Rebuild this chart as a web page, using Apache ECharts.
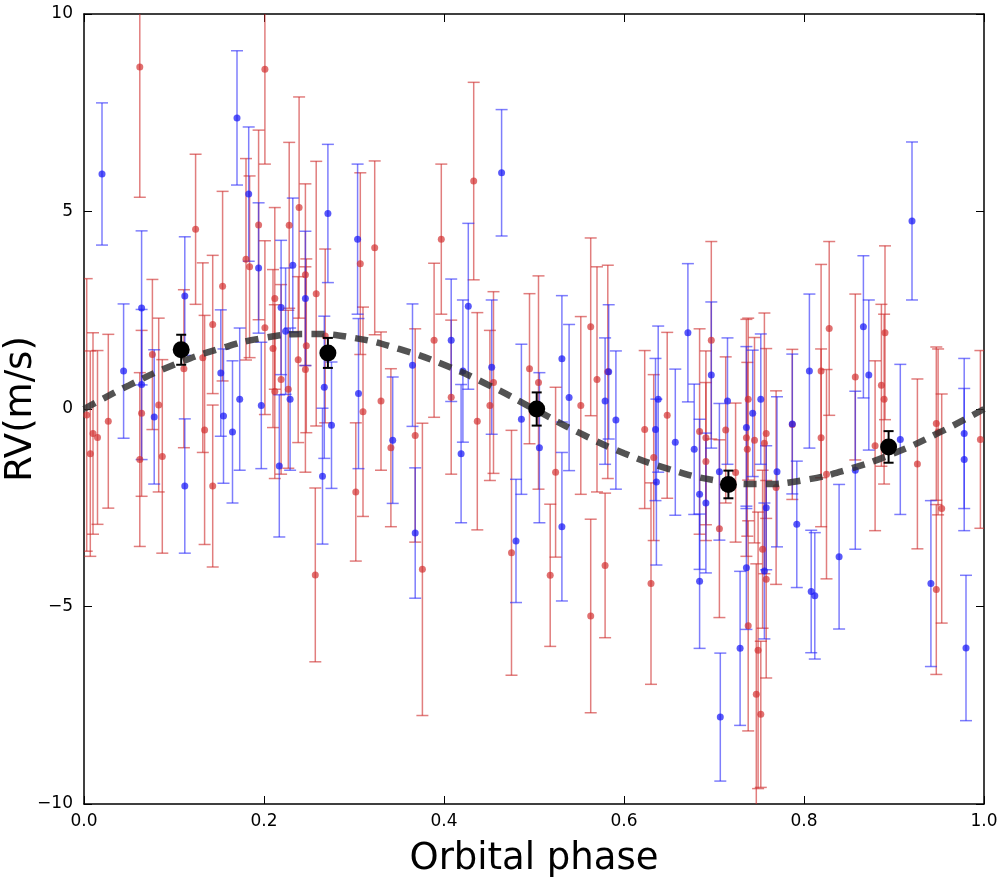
<!DOCTYPE html>
<html>
<head>
<meta charset="utf-8">
<script src="https://cdn.jsdelivr.net/npm/echarts@6/dist/echarts.min.js"></script>
<style>
  html, body { margin: 0; padding: 0; background: #fff; }
  #chart { width: 1000px; height: 883px; }
</style>
</head>
<body>
<div id="chart"></div>
<script>
// red instrument: phase, RV (m/s), 1-sigma error
var redPhase = [0.003, 0.007, 0.010, 0.015, 0.027, 0.062, 0.062, 0.064, 0.076, 0.083, 0.087, 0.111, 0.124, 0.132, 0.134, 0.143, 0.143, 0.154, 0.180, 0.184,
  0.194, 0.201, 0.201, 0.210, 0.212, 0.212, 0.219, 0.227, 0.228, 0.238, 0.239, 0.246, 0.246, 0.247, 0.257, 0.258, 0.268, 0.302, 0.307, 0.310,
  0.323, 0.330, 0.341, 0.368, 0.376, 0.389, 0.397, 0.408, 0.433, 0.437, 0.451, 0.455, 0.475, 0.495, 0.505, 0.518, 0.524, 0.552, 0.563, 0.563,
  0.570, 0.579, 0.582, 0.623, 0.630, 0.633, 0.648, 0.684, 0.691, 0.691, 0.697, 0.706, 0.713, 0.724, 0.736, 0.737, 0.738, 0.738, 0.745, 0.747,
  0.749, 0.752, 0.754, 0.756, 0.758, 0.758, 0.769, 0.787, 0.819, 0.819, 0.825, 0.828, 0.857, 0.879, 0.886, 0.889, 0.890, 0.926, 0.947, 0.947,
  0.949, 0.953, 0.996];
var redRV = [-0.15, -1.13, -0.62, -0.72, -0.31, 8.66, -1.28, -0.11, 1.38, 0.10, -1.20, 1.02, 4.55, 1.30, -0.53, 2.14, -1.95, 3.11, 3.79, 3.60,
  4.66, 8.60, 2.06, 1.53, 2.80, 0.44, 0.75, 0.50, 4.65, 1.25, 5.10, 3.40, 1.00, 1.60, -4.20, 2.92, 1.85, -2.10, 3.68, -0.07,
  4.08, 0.20, -0.98, -0.67, -4.06, 1.74, 4.30, 0.30, 5.77, -0.31, 0.09, 0.67, -3.64, 1.02, 0.67, -4.21, -1.60, 0.09, 2.08, -5.24,
  0.75, -3.96, 0.94, -0.52, -4.42, -1.23, -0.16, -0.57, -0.73, -1.33, 1.74, -3.03, -0.53, -1.61, -0.73, -1.02, 0.25, -5.49, -0.79, -7.22,
  -6.11, -7.73, -3.55, -0.87, -0.62, -4.31, -1.99, -0.39, 0.96, -0.73, -1.65, 2.04, 0.81, -0.93, 0.60, 0.25, 1.93, -1.39, -0.37, -4.57,
  -0.58, -2.52, -0.77];
var redErr = [3.45, 2.6, 2.55, 2.2, 2.2, 3.3, 2.2, 2.1, 1.9, 2.2, 2.45, 2.0, 1.9, 2.4, 2.9, 1.75, 2.05, 2.4, 2.55, 2.3,
  2.4, 2.4, 2.2, 2.0, 2.3, 2.2, 2.4, 2.0, 2.1, 2.1, 2.8, 2.3, 2.6, 2.2, 2.2, 3.35, 2.2, 1.75, 2.3, 2.65,
  2.2, 1.75, 2.0, 2.7, 3.7, 1.95, 1.9, 1.95, 2.5, 2.75, 1.9, 2.3, 3.1, 1.9, 2.7, 1.8, 2.15, 2.25, 2.25, 2.45,
  2.85, 1.83, 2.7, 2.0, 2.55, 2.1, 2.1, 2.6, 2.2, 2.0, 2.5, 2.25, 1.85, 1.76, 3.0, 2.2, 2.05, 2.66, 2.6, 3.3,
  3.5, 1.85, 2.0, 3.3, 2.15, 2.5, 2.45, 1.9, 2.7, 2.25, 2.65, 2.2, 2.1, 2.15, 2.05, 2.15, 2.2, 2.15, 1.94, 2.15,
  2.1, 2.9, 2.25];

// blue instrument
var bluePhase = [0.020, 0.044, 0.064, 0.064, 0.078, 0.112, 0.112, 0.152, 0.155, 0.165, 0.170, 0.173, 0.183, 0.194, 0.197, 0.217, 0.219, 0.224, 0.229, 0.232,
  0.246, 0.265, 0.267, 0.271, 0.275, 0.304, 0.305, 0.343, 0.365, 0.368, 0.408, 0.419, 0.421, 0.427, 0.453, 0.464, 0.480, 0.486, 0.506, 0.531,
  0.531, 0.539, 0.579, 0.583, 0.591, 0.635, 0.636, 0.638, 0.657, 0.671, 0.678, 0.684, 0.684, 0.691, 0.697, 0.706, 0.707, 0.715, 0.729, 0.736,
  0.736, 0.743, 0.752, 0.756, 0.758, 0.770, 0.787, 0.792, 0.806, 0.808, 0.812, 0.839, 0.857, 0.866, 0.872, 0.907, 0.920, 0.941, 0.978, 0.978,
  0.980];
var blueRV = [5.95, 0.96, 2.56, 0.62, -0.20, 2.86, -1.95, 0.91, -0.18, -0.58, 7.37, 0.25, 5.44, 3.57, 0.09, -1.44, 2.57, 1.97, 0.25, 3.64,
  2.80, -1.70, 0.55, 4.95, -0.41, 4.30, 0.39, -0.79, 1.11, -3.14, 1.74, -1.13, 0.96, 2.60, 1.06, 5.98, -3.34, -0.26, -0.98, 1.27,
  -2.98, 0.29, 0.20, 0.94, -0.28, -0.52, -1.85, 0.25, -0.84, 1.93, -1.02, -2.16, -4.36, -2.38, 0.86, -1.59, -7.80, 0.20, -6.06, -0.47,
  -4.02, -0.11, 0.25, -4.10, -2.50, -1.59, -0.38, -2.92, 0.96, -4.62, -4.73, -3.74, -1.55, 2.08, 0.86, -0.77, 4.76, -4.42, -0.62, -1.28,
  -6.05];
var blueErr = [1.8, 1.7, 1.95, 1.9, 1.7, 1.5, 1.7, 1.6, 1.7, 1.8, 1.7, 1.8, 1.7, 1.65, 1.6, 1.8, 1.7, 1.6, 1.8, 1.7,
  1.7, 1.72, 1.8, 1.75, 1.6, 1.9, 1.9, 1.6, 1.55, 1.65, 1.55, 1.75, 1.8, 2.1, 1.7, 1.6, 1.56, 1.9, 1.9, 1.6,
  1.88, 1.85, 1.6, 1.7, 1.75, 1.8, 2.1, 1.85, 1.85, 1.75, 1.65, 1.9, 1.7, 1.77, 1.85, 1.73, 1.62, 1.6, 1.95, 2.05,
  1.56, 1.6, 1.65, 1.72, 1.57, 1.9, 1.77, 1.6, 1.95, 1.55, 1.6, 1.83, 2.0, 1.8, 1.9, 1.9, 2.0, 2.1, 1.9, 1.8,
  1.84];

// binned averages
var binPhase = [0.108, 0.271, 0.503, 0.716, 0.894];
var binRV = [1.50, 1.42, 0.00, -1.91, -0.96];
var binErr = [0.38, 0.38, 0.42, 0.35, 0.4];

// fitted curve
var modelPhase = [0, 0.05, 0.1, 0.15, 0.2, 0.25, 0.3, 0.35, 0.4, 0.45, 0.5, 0.55, 0.6, 0.65, 0.7, 0.75, 0.8, 0.85, 0.9, 0.95, 1.0];
var modelRV = [0, 0.6, 1.12, 1.52, 1.8, 1.9, 1.8, 1.52, 1.12, 0.6, 0, -0.6, -1.12, -1.52, -1.8, -1.9, -1.8, -1.52, -1.12, -0.6, 0];

function points(px, py) {
  return px.map(function (p, i) { return [p, py[i]]; });
}
function bars(px, py, pe) {
  return px.map(function (p, i) { return [p, py[i] - pe[i], py[i] + pe[i]]; });
}

// error bar drawn through the axes' own coordinate transform
function errorBar(color, cap, width) {
  return function (params, api) {
    var x = api.value(0);
    var lo = api.coord([x, api.value(1)]);
    var hi = api.coord([x, api.value(2)]);
    var h = cap / 2;
    var style = { stroke: color, lineWidth: width, fill: null };
    return {
      type: 'group',
      children: [
        { type: 'line', shape: { x1: lo[0], y1: hi[1], x2: lo[0], y2: lo[1] }, style: style },
        { type: 'line', shape: { x1: lo[0] - h, y1: hi[1], x2: lo[0] + h, y2: hi[1] }, style: style },
        { type: 'line', shape: { x1: lo[0] - h, y1: lo[1], x2: lo[0] + h, y2: lo[1] }, style: style }
      ]
    };
  };
}

var font = 'DejaVu Sans';
var chart = echarts.init(document.getElementById('chart'), null, { renderer: 'canvas' });

function baseX(pos, show) {
  return {
    type: 'value', position: pos, min: 0, max: 1, interval: 0.2,
    axisLine: { show: true, onZero: false, lineStyle: { color: '#000', width: 1.5 } },
    axisTick: { show: true, inside: true, length: 8, lineStyle: { color: '#000', width: 1 } },
    axisLabel: {
      show: show, color: '#000', fontFamily: font, fontSize: 17, margin: 9,
      formatter: function (v) { return v.toFixed(1); }
    },
    splitLine: { show: false }
  };
}
function baseY(pos, show) {
  return {
    type: 'value', position: pos, min: -10, max: 10, interval: 5,
    axisLine: { show: true, onZero: false, lineStyle: { color: '#000', width: 1.5 } },
    axisTick: { show: true, inside: true, length: 8, lineStyle: { color: '#000', width: 1 } },
    axisLabel: {
      show: show, color: '#000', fontFamily: font, fontSize: 17, margin: 11,
      formatter: function (v) { return String(v).replace('-', '\u2212'); }
    },
    splitLine: { show: false }
  };
}

var xMain = baseX('bottom', true);
xMain.name = 'Orbital phase';
xMain.nameLocation = 'middle';
xMain.nameGap = 37;
xMain.nameTextStyle = { fontFamily: font, fontSize: 37, color: '#000' };
var yMain = baseY('left', true);
yMain.name = 'RV(m/s)';
yMain.nameLocation = 'middle';
yMain.nameGap = 44;
yMain.nameMoveOverlap = false;
yMain.nameTextStyle = { fontFamily: font, fontSize: 37, color: '#000' };

var option = {
  backgroundColor: '#fff',
  animation: false,
  grid: { left: 84, right: 16, top: 14, bottom: 79, containLabel: false, outerBoundsMode: 'none' },
  xAxis: [xMain, baseX('top', false)],
  yAxis: [yMain, baseY('right', false)],
  series: [
    {
      type: 'custom', name: 'red err', clip: true, z: 2,
      renderItem: errorBar('rgba(205,40,40,0.6)', 12, 1.5),
      encode: { x: 0, y: [1, 2] },
      data: bars(redPhase, redRV, redErr)
    },
    {
      type: 'custom', name: 'blue err', clip: true, z: 2,
      renderItem: errorBar('rgba(40,40,250,0.6)', 12, 1.5),
      encode: { x: 0, y: [1, 2] },
      data: bars(bluePhase, blueRV, blueErr)
    },
    {
      type: 'scatter', name: 'red', z: 3, symbol: 'circle', symbolSize: 7,
      itemStyle: { color: 'rgba(210,45,45,0.85)' },
      data: points(redPhase, redRV)
    },
    {
      type: 'scatter', name: 'blue', z: 3, symbol: 'circle', symbolSize: 7,
      itemStyle: { color: 'rgba(25,25,245,0.9)' },
      data: points(bluePhase, blueRV)
    },
    {
      type: 'line', name: 'fit', z: 4, smooth: true, showSymbol: false, symbol: 'none',
      lineStyle: { color: 'rgba(45,45,45,0.82)', width: 6.5, type: [13, 9], cap: 'butt' },
      data: points(modelPhase, modelRV)
    },
    {
      type: 'custom', name: 'bin err', clip: true, z: 5,
      renderItem: errorBar('#000', 10, 2),
      encode: { x: 0, y: [1, 2] },
      data: bars(binPhase, binRV, binErr)
    },
    {
      type: 'scatter', name: 'bins', z: 6, symbol: 'circle', symbolSize: 17,
      itemStyle: { color: '#000', opacity: 1 },
      data: points(binPhase, binRV)
    }
  ]
};
chart.setOption(option);
</script>
</body>
</html>
